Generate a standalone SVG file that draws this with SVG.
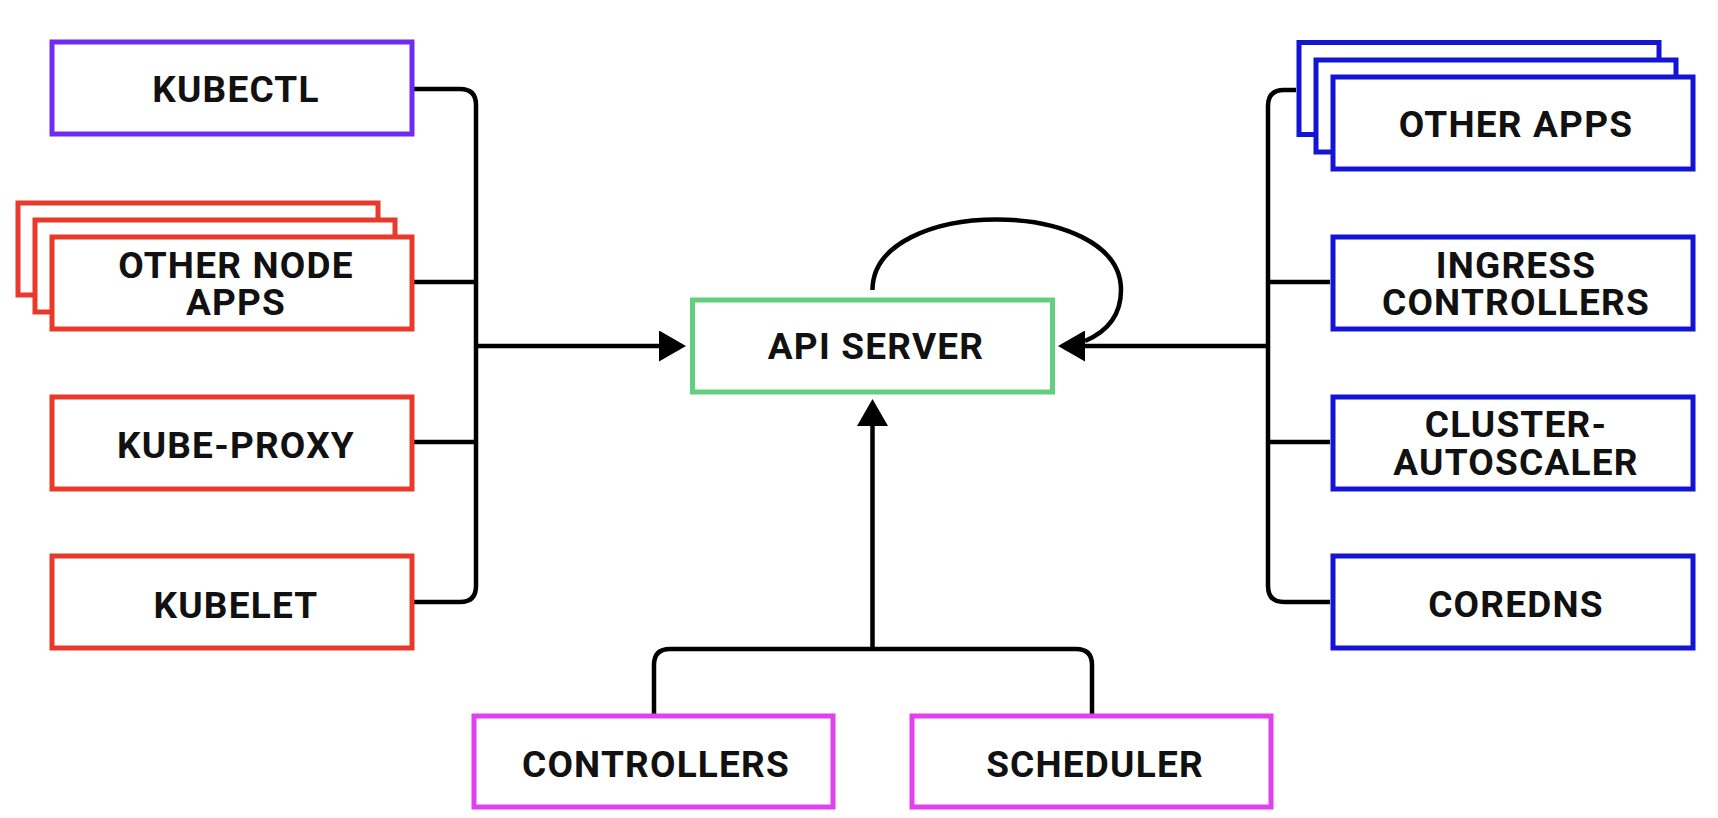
<svg xmlns="http://www.w3.org/2000/svg" width="1718" height="818" viewBox="0 0 1718 818">
<style>
  .box { fill: #ffffff; stroke-width: 5; }
  .purple { stroke: #6C2CF2; }
  .red { stroke: #E8392B; }
  .blue { stroke: #1414D4; }
  .green { stroke: #63CF7E; }
  .magenta { stroke: #E040F0; }
  .lbl { font-family: Roboto, "Liberation Sans", sans-serif; font-weight: 700; font-size: 37px; fill: #111111; text-anchor: middle; letter-spacing: 1.2px; }
  .conn { fill: none; stroke: #000000; stroke-width: 4.5; }
</style>
<defs>
  <marker id="arrow" markerUnits="userSpaceOnUse" markerWidth="27" markerHeight="31" refX="0" refY="15.5" orient="auto">
    <path d="M0,0 L27,15.5 L0,31 Z" fill="#000000"/>
  </marker>
</defs>
<rect width="1718" height="818" fill="#ffffff"/>
<g id="connectors">
  <path class="conn" d="M414 89 H460 Q476 89 476 105 V586 Q476 602 460 602 H414"/>
  <path class="conn" d="M414 282 H476"/>
  <path class="conn" d="M414 442 H476"/>
  <path class="conn" d="M476 346 H659" marker-end="url(#arrow)"/>
  <path class="conn" d="M1296 90 H1284 Q1268 90 1268 106 V586 Q1268 602 1284 602 H1330"/>
  <path class="conn" d="M1268 282 H1330"/>
  <path class="conn" d="M1268 442 H1330"/>
  <path class="conn" d="M1268 346 H1085" marker-end="url(#arrow)"/>
  <path class="conn" d="M654 714 V665 Q654 649 670 649 H1076 Q1092 649 1092 665 V714"/>
  <path class="conn" d="M872.5 649 V426" marker-end="url(#arrow)"/>
  <path class="conn" d="M872.5 290 C872.5 196, 1121 196, 1121 290 C1121 316, 1106 332, 1085 341"/>
</g>
<g id="kubectl">
  <rect class="box purple" x="52" y="42" width="360" height="92"/>
  <text class="lbl" x="236" y="102">KUBECTL</text>
</g>
<g id="other-node-apps">
  <rect class="box red" x="18" y="203" width="360" height="92"/>
  <rect class="box red" x="35" y="220" width="360" height="92"/>
  <rect class="box red" x="52" y="237" width="360" height="92"/>
  <text class="lbl" x="236" y="278">OTHER NODE</text>
  <text class="lbl" x="236" y="315">APPS</text>
</g>
<g id="kube-proxy">
  <rect class="box red" x="52" y="397" width="360" height="92"/>
  <text class="lbl" x="236" y="458">KUBE-PROXY</text>
</g>
<g id="kubelet">
  <rect class="box red" x="52" y="556" width="360" height="92"/>
  <text class="lbl" x="236" y="618">KUBELET</text>
</g>
<g id="api-server">
  <rect class="box green" x="692.5" y="300" width="360" height="92"/>
  <text class="lbl" x="876" y="359">API SERVER</text>
</g>
<g id="other-apps">
  <rect class="box blue" x="1299" y="42.5" width="360" height="92"/>
  <rect class="box blue" x="1316" y="60" width="360" height="92"/>
  <rect class="box blue" x="1333" y="77" width="360" height="92"/>
  <text class="lbl" x="1516" y="137">OTHER APPS</text>
</g>
<g id="ingress-controllers">
  <rect class="box blue" x="1333" y="237" width="360" height="92"/>
  <text class="lbl" x="1516" y="278">INGRESS</text>
  <text class="lbl" x="1516" y="315">CONTROLLERS</text>
</g>
<g id="cluster-autoscaler">
  <rect class="box blue" x="1333" y="397" width="360" height="92"/>
  <text class="lbl" x="1516" y="437">CLUSTER-</text>
  <text class="lbl" x="1516" y="475">AUTOSCALER</text>
</g>
<g id="coredns">
  <rect class="box blue" x="1333" y="556" width="360" height="92"/>
  <text class="lbl" x="1516" y="617">COREDNS</text>
</g>
<g id="controllers">
  <rect class="box magenta" x="474" y="716" width="359" height="91"/>
  <text class="lbl" x="656" y="777">CONTROLLERS</text>
</g>
<g id="scheduler">
  <rect class="box magenta" x="912" y="716" width="359" height="91"/>
  <text class="lbl" x="1095" y="777">SCHEDULER</text>
</g>
</svg>
